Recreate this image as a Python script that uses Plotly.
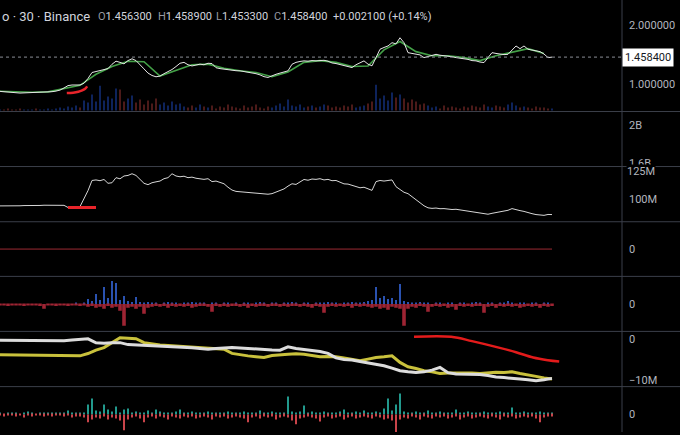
import plotly.graph_objects as go

# header texts
SYMBOL = "o · 30 · Binance"
OHLC = [("O", "1.456300"), ("H", "1.458900"), ("L", "1.453300"), ("C", "1.458400")]
CHANGE = "+0.002100 (+0.14%)"
LAST_CLOSE = 1.4584

# price pane (30m bars, one value per 4 bars of the screen)
price = [
    0.883, 0.875, 0.868, 0.862, 0.858, 0.855, 0.858, 0.860, 0.862, 0.860,
    0.862, 0.868, 0.872, 0.878, 0.888, 0.905, 0.940, 0.980, 0.990, 0.995,
    0.990, 1.020, 1.100, 1.200, 1.215, 1.228, 1.240, 1.265, 1.338, 1.390,
    1.370, 1.345, 1.400, 1.430, 1.400, 1.338, 1.260, 1.190, 1.150, 1.128,
    1.140, 1.180, 1.215, 1.250, 1.300, 1.355, 1.370, 1.330, 1.310, 1.325,
    1.340, 1.330, 1.355, 1.350, 1.280, 1.265, 1.255, 1.240, 1.235, 1.230,
    1.228, 1.215, 1.205, 1.200, 1.180, 1.160, 1.130, 1.117, 1.150, 1.170,
    1.190, 1.210, 1.228, 1.338, 1.370, 1.385, 1.395, 1.390, 1.400, 1.395,
    1.400, 1.405, 1.390, 1.360, 1.350, 1.330, 1.310, 1.295, 1.283, 1.330,
    1.360, 1.395, 1.340, 1.312, 1.450, 1.590, 1.620, 1.645, 1.700, 1.680,
    1.783, 1.700, 1.533, 1.520, 1.500, 1.495, 1.450, 1.470, 1.490, 1.505,
    1.490, 1.485, 1.478, 1.465, 1.450, 1.440, 1.438, 1.420, 1.400, 1.395,
    1.375, 1.367, 1.450, 1.533, 1.520, 1.510, 1.500, 1.505, 1.580, 1.645,
    1.600, 1.645, 1.590, 1.575, 1.562, 1.550, 1.510, 1.450, 1.458,
]
# slower average, one value every 4 points
price_ma = [
    0.885, 0.872, 0.868, 0.875, 0.930, 0.985, 1.170, 1.300, 1.390, 1.380,
    1.140, 1.240, 1.330, 1.340, 1.270, 1.230, 1.200, 1.130, 1.210, 1.370,
    1.400, 1.370, 1.300, 1.310, 1.580, 1.720, 1.550, 1.480, 1.480, 1.450,
    1.400, 1.480, 1.540, 1.600, 1.520,
]
signal_t = [16.7, 18.3, 19.6, 20.4, 21.3, 21.8]
signal_v = [0.855, 0.862, 0.878, 0.895, 0.928, 0.967]
volume = [
    1, 1, 2, 1, 1, 2, 1, 1, 1, 2, 1, 1, 2, 1, 2,
    3, 2, 4, 3, 5, 3,
    10, 8, 16, 9, 25, 10, 14, 12, 22, 21, 9, 12, 15, 8, 11,
    6, 10, 7, 12, 6, 8, 5, 9, 6, 7,
    4, 3, 5, 3, 6, 4, 3, 5, 2, 4, 3, 6, 4, 3, 2, 5, 3, 4, 6, 3, 2, 4, 3, 5, 7, 4, 11,
    5, 4, 6, 3, 4, 5, 3, 4, 6, 5, 3, 4, 3, 5, 4, 6, 3, 4,
    5, 7, 9, 26, 12, 15, 10, 18, 13, 16, 12, 8, 11, 9, 6, 7, 5,
    3, 4, 2, 5, 3, 4, 3, 2, 4, 3, 5, 4, 3, 6, 4, 3, 5, 4, 3, 6, 8, 5, 3, 4, 3, 2, 4, 3, 3, 2, 2,
]

# pane 2 is empty (scale only)
PANE2_TICKS = [1.6, 2.0]
PANE2_LABELS = ["1.6B", "2B"]

# pane 3 (M)
oi = [
    94.4, 94.3, 94.5, 94.4, 94.6, 94.5, 94.7, 94.6, 94.8, 94.9,
    94.8, 95.0, 95.1, 95.0, 95.3, 95.4, 94.9, 93.0, 93.5, 93.8,
    93.8, 100.5, 108.0, 117.0, 117.5, 116.8, 117.9, 114.5, 115.0, 119.5,
    118.5, 121.0, 121.5, 123.0, 121.5, 118.0, 114.5, 113.3, 115.0, 115.8,
    116.5, 118.6, 119.5, 123.0, 121.0, 120.3, 120.8, 119.5, 120.0, 119.0,
    118.8, 118.0, 118.6, 116.0, 116.5, 115.0, 114.1, 111.0, 108.5, 107.3,
    107.0, 106.5, 106.0, 105.5, 105.8, 105.3, 105.0, 104.8, 105.3, 106.5,
    108.0, 109.5, 112.0, 114.1, 113.5, 116.0, 117.9, 117.2, 118.3, 118.0,
    118.6, 117.5, 118.0, 116.8, 117.0, 115.5, 114.0, 113.8, 112.5, 111.5,
    110.5, 111.0, 109.5, 108.2, 116.0, 117.0, 116.5, 117.0, 117.5, 111.5,
    109.0, 106.5, 105.3, 102.5, 100.0, 97.0, 94.5, 92.7, 92.2, 92.5,
    91.9, 92.0, 91.5, 91.2, 91.4, 90.8, 90.5, 89.8, 89.5, 88.9,
    88.2, 87.2, 87.0, 87.8, 88.5, 89.0, 89.8, 90.5, 92.0, 90.8,
    90.2, 89.5, 88.8, 87.5, 86.7, 86.2, 86.0, 86.8, 86.7,
]
oi_mark_t = [17, 24]
oi_mark_v = [92.9, 92.9]

# pane 4: flat oscillator
osc = [0.0] * len(price)

# pane 5: delta bars
delta_up = [
    0, 0, 0, 0, 0, 0, 0, 0, 0, 0, 0, 0, 0, 0, 0, 0, 0, 0, 0, 1, 0, 1,
    5, 3, 10, 4, 17, 6, 23, 21, 4, 8, 3, 2, 7, 2,
    1, 2, 1, 1, 0, 1, 2, 1, 1, 0, 1, 1, 2, 1, 1,
    1, 0, 1, 1, 0, 1, 1, 0, 1, 0, 1, 1, 0, 1, 2, 1, 0, 1, 1, 0, 1, 1, 2, 1, 0, 1, 1, 0, 1, 1,
    1, 2, 1, 1, 0, 1, 1, 2, 1, 1, 2, 3,
    4, 17, 6, 8, 5, 6, 4, 20, 3,
    2, 1, 1, 2, 1, 1, 0, 1, 1, 0, 1, 1, 0, 1, 1, 0, 1, 2, 1, 0, 1, 1, 0, 1, 1, 3, 1, 0, 1, 1, 0, 1, 1, 0, 1, 1, 0,
]
delta_dn = [
    1, 1, 2, 1, 1, 1, 2, 1, 1, 1, 2, 5, 1, 1, 2, 1, 1, 2, 1, 1, 2, 1,
    3, 2, 4, 3, 5, 2, 4, 3, 7, 22, 4, 3, 5, 3,
    10, 4, 3, 2, 3, 2, 4, 2, 3, 2, 3, 2, 4, 3, 2,
    2, 3, 8, 2, 3, 2, 3, 2, 2, 3, 2, 4, 2, 3, 2, 2, 3, 2, 2, 3, 2, 3, 2, 2, 3, 2, 3, 4, 2, 3,
    9, 3, 2, 3, 2, 3, 2, 4, 2, 3, 2, 3,
    4, 3, 5, 4, 6, 3, 4, 5, 22,
    5, 3, 4, 2, 3, 8, 3, 2, 3, 2, 4, 3, 6, 2, 3, 2, 3, 2, 2, 9, 3, 2, 4, 2, 3, 2, 3, 2, 4, 3, 2, 3, 2, 4, 2, 3, 2,
]

# pane 6: cumulative lines (M), one value every 2 points
cvd_spot = [
    -0.41, -0.42, -0.40, -0.45, -0.43, -0.48, -0.50, -0.56, -0.50, -0.35,
    -0.15, -0.05, -1.00, -1.15, -1.00, -0.97, -1.45, -1.55, -1.55, -1.70,
    -1.80, -1.90, -1.95, -2.00, -2.20, -2.40, -2.59, -2.40, -2.25, -2.18,
    -2.25, -2.40, -2.55, -2.65, -2.75, -2.80, -2.00, -2.40, -2.59, -2.90,
    -3.15, -3.60, -4.70, -5.10, -5.20, -5.57, -5.90, -6.22, -6.60, -7.20,
    -7.82, -8.05, -8.23, -8.10, -7.68, -7.02, -8.30, -8.60, -8.64, -8.70,
    -8.75, -9.00, -9.35, -9.50, -9.60, -9.85, -10.00, -10.24, -10.00, -9.69,
]
cvd_perp = [
    -3.95, -3.97, -4.00, -3.98, -4.02, -4.05, -4.00, -4.08, -4.10, -4.15,
    -4.19, -3.63, -2.80, -2.18, -0.97, 0.24, 0.10, 0.00, -0.97, -1.30,
    -1.53, -1.70, -1.85, -2.00, -2.10, -2.30, -2.45, -2.55, -2.59, -3.60,
    -3.95, -4.20, -4.40, -4.60, -4.10, -3.90, -3.80, -3.70, -3.80, -4.10,
    -4.43, -4.35, -4.43, -4.70, -5.00, -5.40, -5.00, -4.60, -4.43, -4.20,
    -5.80, -6.85, -7.30, -7.82, -8.10, -8.47, -8.40, -8.35, -8.30, -8.40,
    -8.47, -8.30, -8.20, -8.23, -8.10, -8.50, -8.79, -9.20, -9.60, -9.85,
]
trend_t = [103.5, 112.8, 118.0, 124.7, 129.0, 133.3, 137.0, 139.8]
trend_v = [0.48, 0.48, -0.60, -2.18, -3.30, -4.60, -5.25, -5.57]

# pane 7: buy / sell bars
buy7 = [
    1, 0, 1, 2, 1, 0, 2, 3, 1, 0, 1, 2, 1, 1, 2,
    1, 2, 4, 1, 2, 1, 2,
    10, 16, 4, 3, 10, 5, 3, 8, 2, 5, 6,
    2, 3, 1, 2, 4, 2, 5, 3, 2, 1, 2, 3,
    5,
    2, 1, 3, 2, 1, 2, 3, 1, 2, 1, 2, 3, 2, 1, 2, 3, 1, 2,
    2, 4,
    2, 1, 3, 2, 1, 2,
    18, 3, 2, 3,
    9,
    2, 3, 1, 2, 3, 2, 1, 2, 3,
    5,
    2, 1, 3, 2, 4, 2, 1, 3, 2,
    6, 16, 4, 10, 21, 3,
    2, 1, 3, 2, 1, 4, 2, 1, 3, 2, 1, 2,
    5,
    2, 1, 3, 2, 1, 2, 3, 1, 2, 1, 3, 2, 1,
    7,
    2, 1, 3, 2, 1, 2, 3, 1, 2, 1,
]
sell7 = [
    1, 2, 1, 1, 2, 1, 3, 1, 2, 1, 1, 2, 1, 2, 1, 1, 2, 1, 3, 2, 2,
    3, 8, 5,
    3, 4, 2, 5, 3, 4,
    6, 16, 5,
    3, 2, 4, 8,
    3, 2, 4, 2, 3, 5, 2, 3, 4, 2, 3, 2, 4, 3, 2, 3, 5, 2, 3, 2, 4, 3, 2, 3,
    4, 8,
    3, 2, 4, 2, 3, 2, 5, 3, 2, 3,
    6, 10,
    4, 3, 2, 3, 4,
    7,
    3, 2, 4, 3, 2, 5, 3, 2, 4, 3, 2, 3, 4, 2, 3, 5,
    4, 6, 18, 5,
    3, 4, 2, 3, 5, 2, 3, 4, 2, 3, 2, 4, 3, 2, 5, 3, 2, 4, 3, 2, 3, 4, 2, 3, 5, 2, 3, 2, 4, 3, 2, 3, 2,
    4, 8,
    3, 2, 2,
]

BG = "#000000"
SEP = "#3b3f4a"
TXT = "#b2b5be"
W, H = 680, 435
PLOT_W = 622
# pane borders in pixels from the top
EDGES = [0, 112.3, 167.7, 223.3, 278.3, 333.7, 389.3, 435]


def pane(i):
    return [1 - EDGES[i + 1] / H, 1 - EDGES[i] / H]


t = list(range(len(price)))
t_ma = [i * 4 for i in range(len(price_ma))]
t_cvd = [i * 2 for i in range(len(cvd_spot))]
vol_colors = ["rgba(41,98,255,0.45)" if i == 0 or price[i] >= price[i - 1] else "rgba(239,83,80,0.4)"
              for i in range(len(price))]

fig = go.Figure()
# price pane
fig.add_trace(go.Bar(x=t, y=volume, yaxis="y8", marker_color=vol_colors, marker_line_width=0, width=0.4))
fig.add_trace(go.Scatter(x=t_ma, y=price_ma, mode="lines", line=dict(color="#43a047", width=1.6)))
fig.add_trace(go.Scatter(x=t, y=price, mode="lines", line=dict(color="#e6e6e6", width=1)))
fig.add_trace(go.Scatter(x=signal_t, y=signal_v, mode="lines", line=dict(color="#e8242a", width=2.5, shape="spline")))
# pane 2 (empty)
fig.add_trace(go.Scatter(x=[], y=[], yaxis="y2"))
# pane 3
fig.add_trace(go.Scatter(x=t, y=oi, yaxis="y3", mode="lines", line=dict(color="#d6d6d6", width=1)))
fig.add_trace(go.Scatter(x=oi_mark_t, y=oi_mark_v, yaxis="y3", mode="lines", line=dict(color="#e8242a", width=3)))
# pane 4
fig.add_trace(go.Scatter(x=t, y=osc, yaxis="y4", mode="lines", line=dict(color="#9c2a33", width=1)))
# pane 5
fig.add_trace(go.Bar(x=t, y=delta_up, yaxis="y5", marker_color="#2a52b0", marker_line_width=0, width=0.35))
fig.add_trace(go.Bar(x=t, y=[-v for v in delta_dn], yaxis="y5", marker_color="#9e2433", marker_line_width=0, width=0.9))
# pane 6
fig.add_trace(go.Scatter(x=t_cvd, y=cvd_perp, yaxis="y6", mode="lines", line=dict(color="#c9c13c", width=3)))
fig.add_trace(go.Scatter(x=t_cvd, y=cvd_spot, yaxis="y6", mode="lines", line=dict(color="#dcdcdc", width=3)))
fig.add_trace(go.Scatter(x=trend_t, y=trend_v, yaxis="y6", mode="lines", line=dict(color="#e31b1b", width=2.5, shape="spline")))
# pane 7
fig.add_trace(go.Bar(x=t, y=buy7, yaxis="y7", marker_color="#22998d", marker_line_width=0, width=0.35))
fig.add_trace(go.Bar(x=t, y=[-v for v in sell7], yaxis="y7", marker_color="#c9444a", marker_line_width=0, width=0.5))

ax = dict(side="right", anchor="x", showgrid=False, zeroline=False, showline=False, ticks="",
          ticklabelstandoff=6, tickfont=dict(family="Roboto", size=11, color=TXT), fixedrange=True)

fig.update_layout(
    width=W, height=H,
    margin=dict(l=0, r=W - PLOT_W, t=0, b=0),
    paper_bgcolor=BG, plot_bgcolor=BG,
    showlegend=False,
    barmode="relative",
    xaxis=dict(visible=False, range=[0, (len(price) - 1) * PLOT_W / 552], fixedrange=True),
    yaxis=dict(domain=pane(0), range=[0.545, 2.4167], tickvals=[1, 2],
               ticktext=["1.000000", "2.000000"], **ax),
    yaxis8=dict(overlaying="y", range=[-1, 111], visible=False, fixedrange=True),
    yaxis2=dict(domain=pane(1), range=[1.5645, 2.143], tickvals=PANE2_TICKS, ticktext=PANE2_LABELS, **ax),
    yaxis3=dict(domain=pane(2), range=[80.3, 129.4], tickvals=[100], ticktext=["100M"], **ax),
    yaxis4=dict(domain=pane(3), range=[-1, 1], tickvals=[0], ticktext=["0"], **ax),
    yaxis5=dict(domain=pane(4), range=[-27.7, 27.7], tickvals=[0], ticktext=["0"], **ax),
    yaxis6=dict(domain=pane(5), range=[-11.7, 1.77], tickvals=[-10, 0], ticktext=["\u221210M", "0"], **ax),
    yaxis7=dict(domain=pane(6), range=[-17.7, 28], tickvals=[0], ticktext=["0"], **ax),
)

# pane separators and the scale border
shapes = []
for e in EDGES[1:-1]:
    shapes.append(dict(type="line", xref="paper", yref="paper", x0=0, x1=W / PLOT_W,
                       y0=1 - e / H, y1=1 - e / H, line=dict(color=SEP, width=1)))
shapes.append(dict(type="line", xref="paper", yref="paper", x0=1, x1=1, y0=0, y1=1,
                   line=dict(color=SEP, width=1)))
shapes.append(dict(type="line", xref="paper", yref="y", x0=0, x1=1, y0=LAST_CLOSE, y1=LAST_CLOSE,
                   line=dict(color="#8a8d96", width=1, dash="dot")))
fig.update_layout(shapes=shapes)

# top label of pane 3 on a black box, so it hides the cut-off foot of "1.6B" like the original
fig.add_annotation(x=1, y=125, xref="paper", yref="y3", xanchor="left", yanchor="middle",
                   text="125M", showarrow=False, bgcolor=BG, borderpad=0, xshift=4,
                   font=dict(family="Roboto", size=11, color=TXT))

# header
head_y = 1 - 17 / H
fig.add_annotation(x=0, y=head_y, xref="paper", yref="paper", xanchor="left", yanchor="middle",
                   text=SYMBOL, showarrow=False, font=dict(family="Roboto", size=13, color="#d1d4dc"))
for (k, v), px in zip(OHLC, [96, 156, 214, 272]):
    fig.add_annotation(x=px / PLOT_W, y=head_y, xref="paper", yref="paper", xanchor="left", yanchor="middle",
                       text=f"<span style='color:#9598a1'>{k}</span>{v}", showarrow=False,
                       font=dict(family="Roboto", size=11, color="#d1d4dc"))
fig.add_annotation(x=331 / PLOT_W, y=head_y, xref="paper", yref="paper", xanchor="left", yanchor="middle",
                   text=CHANGE, showarrow=False, font=dict(family="Roboto", size=11, color="#d1d4dc"))

# last price tag
fig.add_annotation(x=1, y=LAST_CLOSE, xref="paper", yref="y", xanchor="left", yanchor="middle",
                   text=f"{LAST_CLOSE:.6f}", showarrow=False, bgcolor="#ffffff", borderpad=2,
                   font=dict(family="Roboto", size=11, color="#131722"))

# the page has a default body margin; drop it so the figure sits at the window corner
fig.write_html("out.html", config={"displayModeBar": False},
               post_script="document.body.style.margin='0';")
